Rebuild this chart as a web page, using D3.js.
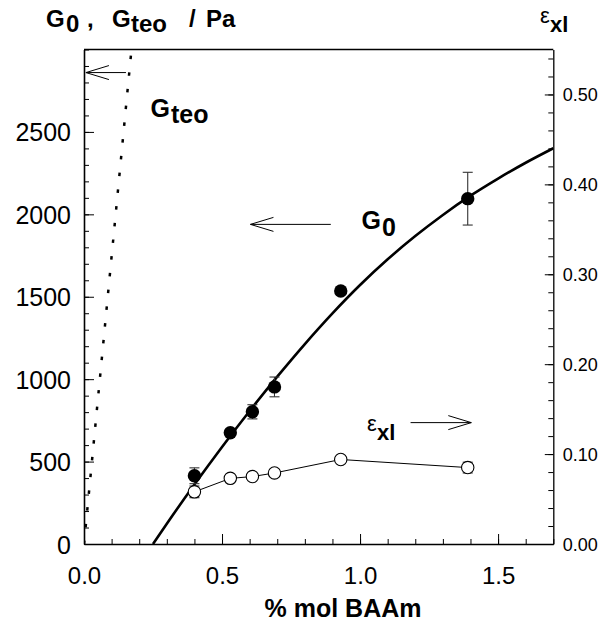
<!DOCTYPE html>
<html><head><meta charset="utf-8">
<script src="https://cdn.jsdelivr.net/npm/d3@7"></script>
<style>
html,body{margin:0;padding:0;background:#fff;}
svg{display:block;font-family:"Liberation Sans",Arial,sans-serif;}
</style></head>
<body>
<svg id="c" width="610" height="627"></svg>
<script>
// ---- data ----
const molBAAm   = [0.40, 0.53, 0.61, 0.69, 0.93, 1.39];
const G0        = [414, 675, 802, 953, 1535, 2095];
const G0err     = [48, 0, 43, 60, 0, 160];
const epsXl     = [0.058, 0.073, 0.075, 0.079, 0.094, 0.085];
const epsErr    = [0.0065, 0, 0, 0, 0, 0.006];
const fitX      = [0.25, 0.30, 0.40, 0.50, 0.60, 0.70, 0.80, 0.90, 1.00, 1.10, 1.20, 1.30, 1.40, 1.50, 1.60, 1.70];
const fitG      = [0, 123, 361, 589, 807, 1015, 1213, 1399, 1571, 1727, 1868, 1996, 2113, 2217, 2313, 2401];
const gteoX     = [0, 0.172];
const gteoG     = [0, 3000];
const xTicks    = [0.0, 0.5, 1.0, 1.5];
const yTicks    = [0, 500, 1000, 1500, 2000, 2500];
const y2Ticks   = [0.00, 0.10, 0.20, 0.30, 0.40, 0.50];

const svg = d3.select("#c");
const L = 84, R = 553.3, T = 49.5, B = 544;
const x = d3.scaleLinear().domain([0, 1.7]).range([L, R]);
const y = d3.scaleLinear().domain([0, 3000]).range([B, T]);
const y2 = d3.scaleLinear().domain([0, 0.55]).range([B, T]);

// minor tick values
const xMinor = d3.range(0, 1.7001, 0.1);
const yMinor = d3.range(0, 3000.1, 100);
const y2Minor = d3.range(0, 0.5501, 0.02);

function styleAxis(g){ g.selectAll("path,line").attr("stroke","#000"); }

// bottom axis
svg.append("g").attr("transform",`translate(0,${B})`)
  .call(d3.axisBottom(x).tickValues(xMinor).tickSize(-5).tickFormat(""))
  .call(g=>g.select(".domain").remove()).call(styleAxis);
svg.append("g").attr("transform",`translate(0,${B})`)
  .call(d3.axisBottom(x).tickValues(xTicks).tickSizeInner(-10).tickSizeOuter(0).tickPadding(22.5).tickFormat(d3.format(".1f")))
  .call(styleAxis)
  .call(g=>{g.select(".domain").attr("stroke-width",1.6);
    g.selectAll("text").attr("font-size",24).attr("fill","#000").attr("font-family","Liberation Sans, Arial");});

// left axis
svg.append("g").attr("transform",`translate(${L},0)`)
  .call(d3.axisLeft(y).tickValues(yMinor).tickSize(-5).tickFormat(""))
  .call(g=>g.select(".domain").remove()).call(styleAxis);
svg.append("g").attr("transform",`translate(${L},0)`)
  .call(d3.axisLeft(y).tickValues(yTicks).tickSizeInner(-10).tickSizeOuter(0).tickPadding(13).tickFormat(d3.format("d")))
  .call(styleAxis)
  .call(g=>{g.select(".domain").attr("stroke-width",1.6);
    g.selectAll("text").attr("font-size",25).attr("fill","#000").attr("dy","0.36em").attr("font-family","Liberation Sans, Arial");});

// right axis
svg.append("g").attr("transform",`translate(${R},0)`)
  .call(d3.axisRight(y2).tickValues(y2Minor).tickSize(-5).tickFormat(""))
  .call(g=>g.select(".domain").remove()).call(styleAxis);
svg.append("g").attr("transform",`translate(${R},0)`)
  .call(d3.axisRight(y2).tickValues(y2Ticks).tickSizeInner(-8.5).tickSizeOuter(0).tickPadding(9.5).tickFormat(d3.format(".2f")))
  .call(styleAxis)
  .call(g=>{g.select(".domain").attr("stroke-width",1.3);
    g.selectAll("text").attr("font-size",18).attr("fill","#000").attr("dy","0.36em").attr("font-family","Liberation Sans, Arial");});

// top frame
svg.append("line").attr("x1",L).attr("x2",R).attr("y1",T).attr("y2",T).attr("stroke","#000").attr("stroke-width",1.3);

// clip
svg.append("clipPath").attr("id","clip").append("rect").attr("x",L).attr("y",T).attr("width",R-L).attr("height",B-T);
const plot = svg.append("g").attr("clip-path","url(#clip)");

// Gteo dotted line
plot.append("path")
  .datum(gteoX.map((d,i)=>[d,gteoG[i]]))
  .attr("d", d3.line().x(d=>x(d[0])).y(d=>y(d[1])))
  .attr("fill","none").attr("stroke","#000").attr("stroke-width",2.5)
  .attr("stroke-dasharray","3.5,13.3");

// fit curve
plot.append("path")
  .datum(fitX.map((d,i)=>[d,fitG[i]]))
  .attr("d", d3.line().x(d=>x(d[0])).y(d=>y(d[1])).curve(d3.curveMonotoneX))
  .attr("fill","none").attr("stroke","#000").attr("stroke-width",2.6);

// eps line
svg.append("path")
  .datum(molBAAm.map((d,i)=>[d,epsXl[i]]))
  .attr("d", d3.line().x(d=>x(d[0])).y(d=>y2(d[1])))
  .attr("fill","none").attr("stroke","#000").attr("stroke-width",1);

// error bars
function errBar(cx, yc1, yc2){
  const g = svg.append("g").attr("stroke","#333").attr("stroke-width",1.1);
  g.append("line").attr("x1",cx).attr("x2",cx).attr("y1",yc1).attr("y2",yc2);
  g.append("line").attr("x1",cx-5).attr("x2",cx+5).attr("y1",yc1).attr("y2",yc1);
  g.append("line").attr("x1",cx-5).attr("x2",cx+5).attr("y1",yc2).attr("y2",yc2);
}
molBAAm.forEach((d,i)=>{
  if (epsErr[i]>0) errBar(x(d), y2(epsXl[i]-epsErr[i]), y2(epsXl[i]+epsErr[i]));
  if (G0err[i]>0) errBar(x(d), y(G0[i]-G0err[i]), y(G0[i]+G0err[i]));
});

// eps open circles
svg.selectAll("circle.eps").data(molBAAm).enter().append("circle")
  .attr("cx",d=>x(d)).attr("cy",(d,i)=>y2(epsXl[i])).attr("r",6.2)
  .attr("fill","#fff").attr("stroke","#000").attr("stroke-width",1.1);

// G0 filled circles
svg.selectAll("circle.g0").data(molBAAm).enter().append("circle")
  .attr("cx",d=>x(d)).attr("cy",(d,i)=>y(G0[i])).attr("r",6.7)
  .attr("fill","#000");

// arrows
function arrow(x1, x2, yy){ // x1 shaft start, x2 tip
  const g = svg.append("g").attr("stroke","#000").attr("stroke-width",1).attr("fill","none");
  g.append("line").attr("x1",x1).attr("x2",x2).attr("y1",yy).attr("y2",yy);
  const dir = x2 > x1 ? -1 : 1;
  g.append("polyline").attr("points",`${x2+dir*23},${yy-7} ${x2},${yy} ${x2+dir*23},${yy+7}`);
}
arrow(x(0.152), x(0.007), y(2860));
arrow(x(0.894), x(0.603), y(1939));
arrow(x(1.183), x(1.403), y2(0.135));

// texts
function txt(tx, ty, s, size, weight){
  return svg.append("text").attr("x",tx).attr("y",ty).attr("font-size",size)
    .attr("font-weight",weight||"bold").attr("fill","#000").text(s);
}
// title
txt(46, 27, "G", 24); txt(66, 32, "0", 24);
txt(87, 27, ",", 24);
txt(112, 27, "G", 24); txt(131, 32, "teo", 24);
txt(189, 27, "/", 24); txt(206, 27, "Pa", 24);

// right axis title
txt(540, 22.5, "ε", 22, "normal");
txt(550, 31.5, "xl", 22);

// Gteo label
txt(150.5, 116.5, "G", 25); txt(171, 122.5, "teo", 25);
// G0 label
txt(361.5, 229, "G", 25); txt(382, 236, "0", 25);
// eps label
txt(367, 431, "ε", 22, "normal");
txt(377, 440, "xl", 22);

// x axis title
svg.append("text").attr("x",343).attr("y",617).attr("text-anchor","middle")
  .attr("font-size",25).attr("font-weight","bold").text("% mol BAAm");
</script>
</body></html>
